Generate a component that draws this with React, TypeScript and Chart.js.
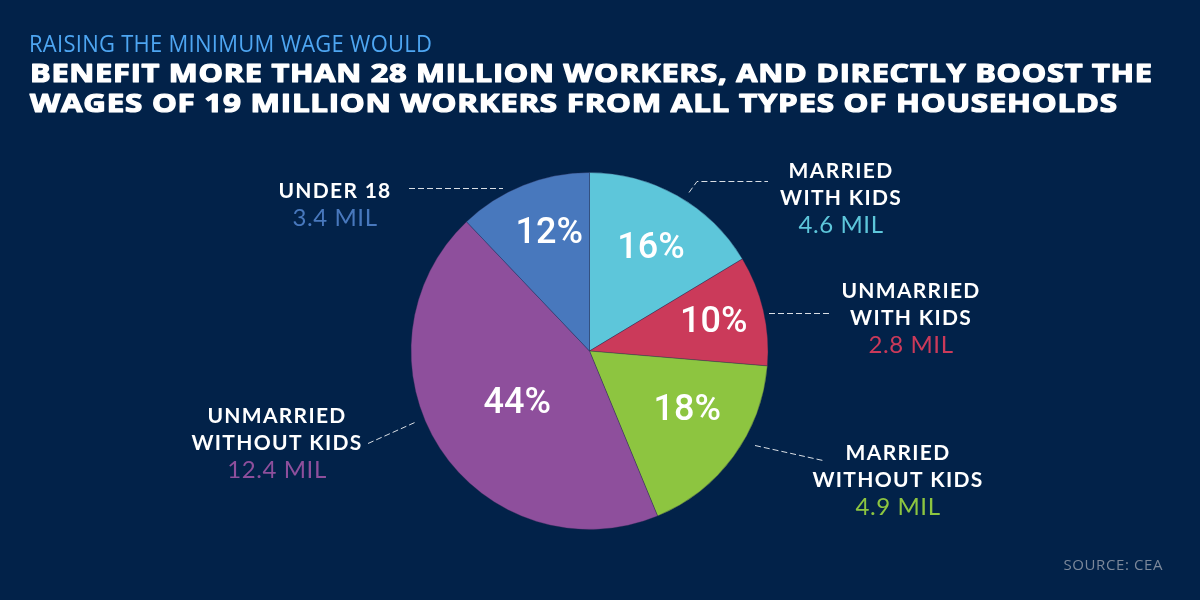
import React, { useEffect, useRef } from "react";
import { Chart, registerables } from "chart.js";

Chart.register(...registerables);

// ---- data ----
const categoryLines: string[][] = [
  ["MARRIED", "WITH KIDS"],
  ["UNMARRIED", "WITH KIDS"],
  ["MARRIED", "WITHOUT KIDS"],
  ["UNMARRIED", "WITHOUT KIDS"],
  ["UNDER 18"],
];
const workersMil = [4.6, 2.8, 4.9, 12.4, 3.4];
const valueLabels = ["4.6 MIL", "2.8 MIL", "4.9 MIL", "12.4 MIL", "3.4 MIL"];
const percentLabels = ["16%", "10%", "18%", "44%", "12%"];
const sliceColors = ["#5DC6DA", "#CB3A5A", "#8DC540", "#8E4F9C", "#4878BD"];

const subtitle = "RAISING THE MINIMUM WAGE WOULD";
const titleLines = [
  "BENEFIT MORE THAN 28 MILLION WORKERS, AND DIRECTLY BOOST THE",
  "WAGES OF 19 MILLION WORKERS FROM ALL TYPES OF HOUSEHOLDS",
];
const sourceText = "SOURCE: CEA";

// ---- layout (annotation placement, not data) ----
const BG = "#022249";
const labelAnchors = [
  { x: 841, y: 178 },
  { x: 911, y: 298 },
  { x: 898, y: 460 },
  { x: 277, y: 423 },
  { x: 335, y: 198 },
];
const leaderLines: number[][][] = [
  [[689, 192], [697, 181], [768, 181]],
  [[769, 313], [832, 313]],
  [[755, 445], [823, 460]],
  [[368, 443], [417, 421]],
  [[409, 188], [503, 188]],
];
const pctRadius = [0.67, 0.715, 0.64, 0.5, 0.7];
const pctAngleShift = [1.5, 0, -5, -3, 3];

function stretchText(
  ctx: CanvasRenderingContext2D,
  text: string,
  x: number,
  y: number,
  target: number,
  spacing: number,
  strokeW: number
) {
  (ctx as any).letterSpacing = spacing + "px";
  const w = ctx.measureText(text).width - spacing;
  const sx = target / w;
  ctx.save();
  ctx.translate(x, y);
  ctx.scale(sx, 1);
  ctx.fillText(text, 0, 0);
  if (strokeW > 0) {
    ctx.lineJoin = "round";
    ctx.lineWidth = strokeW;
    ctx.strokeStyle = ctx.fillStyle as string;
    ctx.strokeText(text, 0, 0);
  }
  ctx.restore();
  (ctx as any).letterSpacing = "0px";
}

const decorPlugin = {
  id: "decor",
  beforeDraw(chart: any) {
    const ctx = chart.ctx as CanvasRenderingContext2D;
    ctx.save();
    ctx.fillStyle = BG;
    ctx.fillRect(0, 0, chart.width, chart.height);
    ctx.restore();
  },
  afterDraw(chart: any) {
    const ctx = chart.ctx as CanvasRenderingContext2D;
    ctx.save();
    ctx.textBaseline = "alphabetic";

    // titles
    ctx.textAlign = "left";
    ctx.fillStyle = "#4EA6F2";
    ctx.font = "400 23px 'Open Sans'";
    stretchText(ctx, subtitle, 29, 52, 403, 0.3, 0);
    ctx.fillStyle = "#FFFFFF";
    ctx.font = "700 25px 'Open Sans'";
    stretchText(ctx, titleLines[0], 30, 82, 1122, 0.6, 1.2);
    stretchText(ctx, titleLines[1], 30, 112, 1087, 0.6, 1.2);

    // source
    ctx.textAlign = "right";
    ctx.fillStyle = "#7C889A";
    ctx.font = "400 15px 'Open Sans'";
    (ctx as any).letterSpacing = "0.6px";
    ctx.fillText(sourceText, 1163, 570);
    (ctx as any).letterSpacing = "0px";

    // percent labels inside slices
    const meta = chart.getDatasetMeta(0);
    ctx.textAlign = "center";
    ctx.textBaseline = "middle";
    ctx.fillStyle = "#FFFFFF";
    ctx.font = "500 36px Roboto";
    meta.data.forEach((arc: any, i: number) => {
      const p = arc.getProps(["x", "y", "startAngle", "endAngle", "outerRadius"], true);
      const mid = (p.startAngle + p.endAngle) / 2 + (pctAngleShift[i] * Math.PI) / 180;
      const r = p.outerRadius * pctRadius[i];
      ctx.fillText(percentLabels[i], p.x + Math.cos(mid) * r, p.y + Math.sin(mid) * r + 1);
    });

    // leader lines
    ctx.strokeStyle = "rgba(255,255,255,0.85)";
    ctx.lineWidth = 1;
    ctx.setLineDash([6, 3]);
    leaderLines.forEach((pts) => {
      ctx.beginPath();
      pts.forEach(([x, y], k) => (k === 0 ? ctx.moveTo(x, y + 0.5) : ctx.lineTo(x, y + 0.5)));
      ctx.stroke();
    });
    ctx.setLineDash([]);

    // outer labels
    ctx.textAlign = "center";
    ctx.textBaseline = "alphabetic";
    categoryLines.forEach((lines, i) => {
      const a = labelAnchors[i];
      ctx.fillStyle = "#FFFFFF";
      ctx.font = "700 21px Lato";
      (ctx as any).letterSpacing = "1.3px";
      lines.forEach((ln, k) => ctx.fillText(ln, a.x, a.y + k * 27));
      ctx.fillStyle = sliceColors[i];
      ctx.font = "400 24px Lato";
      (ctx as any).letterSpacing = "0.6px";
      ctx.fillText(valueLabels[i], a.x, a.y + lines.length * 27 + 1);
      (ctx as any).letterSpacing = "0px";
    });

    ctx.restore();
  },
};

export default function App() {
  const ref = useRef<HTMLCanvasElement | null>(null);
  useEffect(() => {
    document.body.style.margin = "0";
    document.body.style.background = BG;
    const canvas = ref.current!;
    const chart = new Chart(canvas, {
      type: "pie",
      data: {
        labels: categoryLines.map((l) => l.join(" ")),
        datasets: [
          {
            data: workersMil,
            backgroundColor: sliceColors,
            borderColor: "rgba(40,40,80,0.35)",
            borderWidth: 1,
          },
        ],
      },
      options: {
        animation: false,
        responsive: false,
        devicePixelRatio: 1,
        layout: { padding: { left: 410, right: 431, top: 172, bottom: 70 } },
        plugins: {
          legend: { display: false },
          tooltip: { enabled: false },
          title: { display: false },
        },
      },
      plugins: [decorPlugin],
    });
    let alive = true;
    if ((document as any).fonts) {
      Promise.all([
        document.fonts.load("700 25px 'Open Sans'"),
        document.fonts.load("400 23px 'Open Sans'"),
        document.fonts.load("700 21px Lato"),
        document.fonts.load("400 24px Lato"),
        document.fonts.load("500 36px Roboto"),
        document.fonts.load("400 15px 'Open Sans'"),
      ])
        .then(() => alive && chart.draw())
        .catch(() => {});
    }
    return () => {
      alive = false;
      chart.destroy();
    };
  }, []);
  return (
    <div style={{ position: "absolute", left: 0, top: 0, width: 1200, height: 600, background: BG }}>
      <canvas ref={ref} width={1200} height={600} style={{ width: 1200, height: 600, display: "block" }} />
    </div>
  );
}
